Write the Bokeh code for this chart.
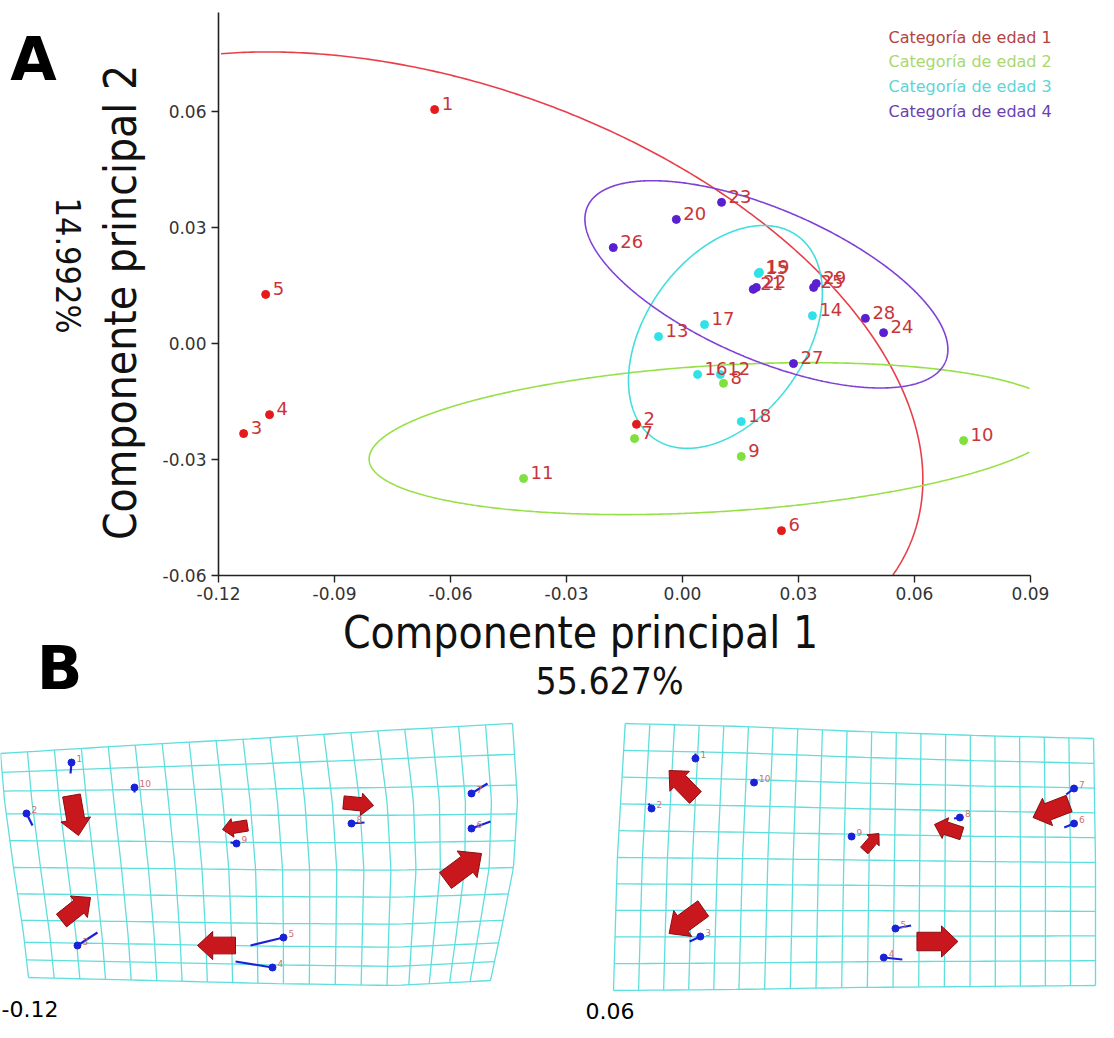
import numpy as np
from bokeh.plotting import figure
from bokeh.models import Range1d, FixedTicker, PrintfTickFormatter, LinearAxis
from bokeh.embed import file_html
from bokeh.resources import INLINE
from bokeh.core.properties import value

# ---------------- Panel A data ----------------
point_ids = [str(i) for i in range(1, 30)]
pc1 = [-0.0641, -0.0119, -0.1135, -0.1068, -0.1078, 0.0256,
       -0.0124, 0.0106, 0.0152, 0.0727, -0.0411,
       0.0098, -0.0062, 0.0336, 0.0196, 0.0039, 0.0057, 0.0152, 0.0199,
       -0.0016, 0.0183, 0.0191, 0.0101, 0.0520, 0.0339, -0.0179, 0.0287, 0.0473, 0.0346]
pc2 = [0.0605, -0.0209, -0.0233, -0.0184, 0.0127, -0.0484,
       -0.0246, -0.0103, -0.0292, -0.0251, -0.0349,
       -0.0080, 0.0018, 0.0072, 0.0181, -0.0080, 0.0049, -0.0202, 0.0184,
       0.0321, 0.0140, 0.0145, 0.0365, 0.0028, 0.0145, 0.0248, -0.0052, 0.0065, 0.0155]
age_cat = [1] * 6 + [2] * 5 + [3] * 8 + [4] * 10

categories = ["Categoría de edad 1", "Categoría de edad 2", "Categoría de edad 3", "Categoría de edad 4"]
ell_cx = [-0.0630, 0.0088, 0.0111, 0.0217]
ell_cy = [-0.0063, -0.0246, 0.0017, 0.0153]
ell_w = [0.2603, 0.1800, 0.0642, 0.1009]
ell_h = [0.1470, 0.0378, 0.0414, 0.0388]
ell_angle_deg = [-19.4, 3.5, 54.8, -23.4]

x_ticks = [-0.12, -0.09, -0.06, -0.03, 0.00, 0.03, 0.06, 0.09]
y_ticks = [-0.06, -0.03, 0.00, 0.03, 0.06]
pc1_label = "Componente principal 1"
pc1_pct = "55.627%"
pc2_label = "Componente principal 2"
pc2_pct = "14.992%"

# ---------------- Panel B data (landmarks, vectors, arrows), picture pixels ----------------
lmL_id = ["1", "2", "10", "3", "9", "5", "4", "8", "7", "6"]
lmL_x = [71, 26, 134, 77, 236, 283, 272, 351, 471, 471]
lmL_y = [762, 813, 787, 945, 843, 937, 967, 823, 793, 828]
lmL_ex = [70, 32, 134, 97, 230, 250, 235, 364, 487, 490]
lmL_ey = [773, 825, 792, 932, 842, 945, 961, 822, 783, 821]
arrL_x0 = [71, 61, 247, 235, 343, 445]
arrL_y0 = [795, 920, 825, 945, 802, 880]
arrL_x1 = [78, 90, 222, 197, 373, 481]
arrL_y1 = [835, 897, 829, 945, 805, 853]

lmR_id = ["1", "2", "10", "3", "9", "8", "7", "6", "5", "4"]
lmR_x = [697, 652, 757, 702, 857, 968, 1085, 1085, 902, 890]
lmR_y = [758, 808, 782, 936, 836, 817, 788, 823, 928, 957]
lmR_ex = [697, 649, 757, 691, 857, 962, 1077, 1075, 918, 909]
lmR_ey = [753, 803, 782, 941, 836, 818, 794, 827, 925, 959]
arrR_x0 = [697, 705, 870, 970, 1080, 924]
arrR_y0 = [797, 908, 850, 833, 803, 941]
arrR_x1 = [670, 670, 885, 942, 1043, 966]
arrR_y1 = [770, 933, 833, 824, 817, 941]

gridL_top = [(0, 753), (128, 745), (256, 738), (384, 730), (512, 723)]
gridL_bottom = [(28, 977), (150, 980), (270, 983), (393, 985), (490, 980)]
gridL_left = [(0, 753), (4, 800), (13, 867), (23, 933), (28, 977)]
gridL_right = [(512, 723), (517, 800), (513, 867), (500, 933), (490, 980)]
gridR_top = [(625, 723), (745, 726), (865, 731), (985, 735), (1105, 738)]
gridR_bottom = [(613, 990), (735, 989), (860, 987), (985, 986), (1107, 985)]
gridR_left = [(625, 723), (621, 790), (617, 857), (615, 923), (613, 990)]
gridR_right = [(1105, 738), (1106, 800), (1107, 862), (1107, 923), (1107, 985)]
grid_cols, grid_rows = 19, 10
pc_values_shown = ["-0.12", "0.06"]

# ---------------- styles ----------------
pt_colors = {1: "#e41a1c", 2: "#7fe03e", 3: "#2fe2e8", 4: "#5a1fd0"}
ell_colors = ["#e8404a", "#96e048", "#44dede", "#8042d6"]
leg_colors = ["#b5433f", "#a9d86e", "#5fd4d4", "#6b3fb0"]
lab_color = "#c9343a"

W, H = 1098, 1022
S = 812 / 0.21          # pixels per data unit (both axes)
X_LO, X_HI = -0.12, 0.09
Y_LO = -0.06


def ax(rx):
    return -0.12 + (np.asarray(rx, float) - 218) / S


def ay(ry):
    return -0.06 + (575 - np.asarray(ry, float)) / S


def bx(rx, right_grid=False):
    # keep the right-hand grid inside the canvas width
    rx = np.asarray(rx, float)
    if right_grid:
        rx = 613 + (rx - 613) * (1095 - 613) / (1107 - 613)
    return ax(rx)


Y_HI = float(ay(12))

p = figure(width=W, height=H, x_range=Range1d(float(ax(0)), float(ax(W))),
           y_range=Range1d(float(ay(H)), float(ay(0))), output_backend="svg", toolbar_location=None,
           min_border=0, x_axis_location=None, y_axis_location=None)
p.grid.visible = False
p.outline_line_color = None

xa = LinearAxis(fixed_location=Y_LO, bounds=(X_LO, X_HI), ticker=FixedTicker(ticks=x_ticks),
                formatter=PrintfTickFormatter(format="%.2f"))
ya = LinearAxis(fixed_location=X_LO, bounds=(Y_LO, Y_HI), ticker=FixedTicker(ticks=y_ticks),
                formatter=PrintfTickFormatter(format="%.2f"))
for a in (xa, ya):
    a.axis_line_color = "#222222"
    a.axis_line_width = 1.6
    a.major_tick_line_color = "#222222"
    a.major_tick_line_width = 1.4
    a.major_tick_out = 7
    a.major_tick_in = 0
    a.minor_tick_out = 0
    a.minor_tick_in = 0
    a.major_label_text_font = "DejaVu Sans"
    a.major_label_text_font_size = "17px"
    a.major_label_text_color = "#333333"
xa.major_label_standoff = 4
ya.major_label_standoff = 5
p.add_layout(xa, "below")
p.add_layout(ya, "left")

# confidence ellipses, clipped to the plotting box
t = np.linspace(0, 2 * np.pi, 721)
for i in range(4):
    th = np.deg2rad(ell_angle_deg[i])
    a_, b_ = ell_w[i] / 2, ell_h[i] / 2
    ex = ell_cx[i] + a_ * np.cos(t) * np.cos(th) - b_ * np.sin(t) * np.sin(th)
    ey = ell_cy[i] + a_ * np.cos(t) * np.sin(th) + b_ * np.sin(t) * np.cos(th)
    out = (ex < X_LO) | (ex > X_HI) | (ey < Y_LO) | (ey > Y_HI)
    ex = np.where(out, np.nan, ex)
    ey = np.where(out, np.nan, ey)
    p.line(x=ex, y=ey, line_color=ell_colors[i], line_width=1.6)

cols = [pt_colors[c] for c in age_cat]
p.scatter(x=pc1, y=pc2, size=8, fill_color=cols, line_color=cols)
p.text(x=pc1, y=pc2, text=point_ids, x_offset=7, y_offset=-6, text_baseline="middle",
       text_align="left", text_color=lab_color, text_font=value("DejaVu Sans"),
       text_font_size="18px")

legend_y = [37, 61, 86, 111]
p.text(x=[float(ax(888))] * 4, y=[float(ay(v)) for v in legend_y], text=categories, text_color=leg_colors,
       text_font=value("DejaVu Sans"), text_font_size="16px", text_baseline="middle", text_align="left")

big_font = value("DejaVu Sans Condensed")
p.text(x=[float(ax(580))], y=[float(ay(632))], text=[pc1_label], text_font=big_font, text_font_size="44px",
       text_align="center", text_baseline="middle", text_color="#111111")
p.text(x=[float(ax(609))], y=[float(ay(681))], text=[pc1_pct], text_font=big_font, text_font_size="37px",
       text_align="center", text_baseline="middle", text_color="#111111")
p.text(x=[float(ax(120))], y=[float(ay(302))], text=[pc2_label], text_font=big_font, text_font_size="44px",
       text_align="center", text_baseline="middle", angle=np.pi / 2, text_color="#111111")
p.text(x=[float(ax(67))], y=[float(ay(265))], text=[pc2_pct], text_font=big_font, text_font_size="34px",
       text_align="center", text_baseline="middle", angle=-np.pi / 2, text_color="#111111")
p.text(x=[float(ax(33)), float(ax(59))], y=[float(ay(58)), float(ay(667))], text=["A", "B"],
       text_font=value("DejaVu Sans"), text_font_style="bold", text_font_size="60px",
       text_align="center", text_baseline="middle", text_color="black")

# ---------------- Panel B ----------------


def resample(pts, tt):
    pts = np.asarray(pts, float)
    s = np.linspace(0, 1, len(pts))
    return np.interp(tt, s, pts[:, 0]), np.interp(tt, s, pts[:, 1])


def coons(top, bottom, left, right, u, v):
    tx, ty = resample(top, u)
    bx_, by_ = resample(bottom, u)
    lx, ly = resample(left, v)
    rx, ry = resample(right, v)
    T0, T1, B0, B1 = [np.asarray(q, float) for q in (top[0], top[-1], bottom[0], bottom[-1])]
    cx = (1 - u) * (1 - v) * T0[0] + u * (1 - v) * T1[0] + (1 - u) * v * B0[0] + u * v * B1[0]
    cy = (1 - u) * (1 - v) * T0[1] + u * (1 - v) * T1[1] + (1 - u) * v * B0[1] + u * v * B1[1]
    x = (1 - v) * tx + v * bx_ + (1 - u) * lx + u * rx - cx
    y = (1 - v) * ty + v * by_ + (1 - u) * ly + u * ry - cy
    return x, y


def grid_lines(top, bottom, left, right, right_grid):
    xs, ys = [], []
    tt = np.linspace(0, 1, 40)
    for i in range(grid_cols + 1):
        x, y = coons(top, bottom, left, right, np.full_like(tt, i / grid_cols), tt)
        xs.append(list(bx(x, right_grid))); ys.append(list(ay(y)))
    for j in range(grid_rows + 1):
        x, y = coons(top, bottom, left, right, tt, np.full_like(tt, j / grid_rows))
        xs.append(list(bx(x, right_grid))); ys.append(list(ay(y)))
    return xs, ys


for g, rg in [((gridL_top, gridL_bottom, gridL_left, gridL_right), False),
              ((gridR_top, gridR_bottom, gridR_left, gridR_right), True)]:
    xs, ys = grid_lines(*g, rg)
    p.multi_line(xs=xs, ys=ys, line_color="#5fdede", line_width=1.3)


def arrow_poly(x0, y0, x1, y1, rg):
    dx, dy = x1 - x0, y1 - y0
    L = np.hypot(dx, dy)
    ux, uy = dx / L, dy / L
    nx, ny = -uy, ux
    bw, hw, hl = 0.22 * L, 0.37 * L, 0.40 * L
    hx, hy = x1 - ux * hl, y1 - uy * hl
    px = [x0 + nx * bw, hx + nx * bw, hx + nx * hw, x1, hx - nx * hw, hx - nx * bw, x0 - nx * bw]
    py = [y0 + ny * bw, hy + ny * bw, hy + ny * hw, y1, hy - ny * hw, hy - ny * bw, y0 - ny * bw]
    return list(bx(px, rg)), list(ay(py))


for (lid, lx, ly, lex, ley, a0x, a0y, a1x, a1y, rg) in [
        (lmL_id, lmL_x, lmL_y, lmL_ex, lmL_ey, arrL_x0, arrL_y0, arrL_x1, arrL_y1, False),
        (lmR_id, lmR_x, lmR_y, lmR_ex, lmR_ey, arrR_x0, arrR_y0, arrR_x1, arrR_y1, True)]:
    pxs, pys = [], []
    for k in range(len(a0x)):
        px, py = arrow_poly(a0x[k], a0y[k], a1x[k], a1y[k], rg)
        pxs.append(px); pys.append(py)
    p.patches(xs=pxs, ys=pys, fill_color="#c8181e", line_color="#8e0c10", line_width=1)
    lxd = list(bx(lx, rg))
    lyd = list(ay(ly))
    p.segment(x0=lxd, y0=lyd, x1=list(bx(lex, rg)), y1=list(ay(ley)),
              line_color="#1a22d8", line_width=2.2)
    p.scatter(x=lxd, y=lyd, size=7, fill_color="#1a22d8", line_color="#1a22d8")
    p.text(x=lxd, y=lyd, text=lid, x_offset=5, y_offset=-4, text_baseline="middle",
           text_color="#d07070", text_font=value("DejaVu Sans"), text_font_size="9px")

p.text(x=[float(ax(1)), float(ax(585))], y=[float(ay(1008)), float(ay(1010))], text=pc_values_shown,
       text_baseline="middle", text_align="left", text_color="black", text_font=value("DejaVu Sans"),
       text_font_size="22px")

open("out.html", "w").write(file_html(p, INLINE))
